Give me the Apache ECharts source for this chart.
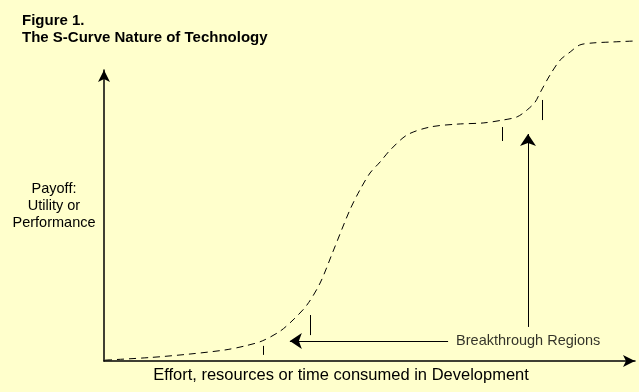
<!DOCTYPE html>
<html>
<head>
<meta charset="utf-8">
<script src="https://cdn.jsdelivr.net/npm/echarts@6/dist/echarts.min.js"></script>
<style>
html,body{margin:0;padding:0;background:#FFFFCC;}
#chart{width:639px;height:392px;}
</style>
</head>
<body>
<div id="chart"></div>
<script>
// S-curve (effort vs payoff), in axis units (0-100)
var curveX = [0.2, 8.7, 16.2, 22.8, 26.6, 29.8, 33.2, 35.6, 38.2, 40.7, 43.1, 46.3, 48.2, 50.1, 52.0, 53.9, 57.1, 61.4, 66.5, 71.4, 75.1, 77.8, 79.7, 81.2, 82.1, 84.0, 85.9, 87.8, 89.6, 92.1, 95.3, 100.4];
var curveY = [0.3, 1.2, 2.4, 3.8, 5.2, 6.9, 10.3, 14.1, 19.2, 26.8, 37.5, 51.9, 58.8, 64.6, 68.4, 72.5, 77.7, 80.4, 81.4, 81.8, 82.8, 83.9, 86.3, 89.0, 92.1, 98.3, 103.4, 106.2, 108.6, 109.3, 109.6, 110.0];
// breakthrough region tick marks
var tickX = [29.9, 38.8, 75.0, 82.5];
var tickLow = [2.1, 8.9, 75.6, 82.8];
var tickHigh = [5.2, 15.8, 80.4, 89.7];
// pointer arrows: [fromX, fromY] -> [toX, toY]
var arrowFrom = [[64.8, 6.9], [79.85, 11.7]];
var arrowTo = [[35.0, 6.9], [79.85, 78.0]];
var calloutText = 'Breakthrough Regions';
var titleText = 'Figure 1.\nThe S-Curve Nature of Technology';
var xAxisTitle = 'Effort, resources or time consumed in Development';
var yAxisTitle = 'Payoff:\nUtility or\nPerformance';

var chart = echarts.init(document.getElementById('chart'));
var curve = curveX.map(function (x, i) { return [x, curveY[i]]; });
var ticks = tickX.map(function (x, i) { return { coords: [[x, tickLow[i]], [x, tickHigh[i]]] }; });
var arrows = arrowFrom.map(function (f, i) { return { coords: [f, arrowTo[i]] }; });

chart.setOption({
  backgroundColor: '#FFFFCC',
  animation: false,
  title: {
    text: titleText,
    left: 22, top: 12, padding: 0,
    textStyle: { fontFamily: 'Liberation Sans, Arial', fontSize: 15, fontWeight: 'bold', color: '#000', lineHeight: 17 }
  },
  grid: { left: 104, right: 4, top: 70, bottom: 31 },
  xAxis: {
    type: 'value', min: 0, max: 100,
    axisLine: { show: true, lineStyle: { color: '#000', width: 1.5 }, symbol: ['none', 'arrow'], symbolSize: [9, 12] },
    axisTick: { show: false }, axisLabel: { show: false }, splitLine: { show: false }
  },
  yAxis: {
    type: 'value', min: 0, max: 100,
    axisLine: { show: true, lineStyle: { color: '#000', width: 1.5 }, symbol: ['none', 'arrow'], symbolSize: [9, 12] },
    axisTick: { show: false }, axisLabel: { show: false }, splitLine: { show: false }
  },
  graphic: [
    { type: 'text', x: 341, y: 375, style: { text: xAxisTitle, font: '16.5px "Liberation Sans", Arial', fill: '#000', align: 'center', verticalAlign: 'middle' } },
    { type: 'text', x: 54, y: 206, style: { text: yAxisTitle, font: '14.5px "Liberation Sans", Arial', fill: '#000', align: 'center', verticalAlign: 'middle', lineHeight: 17 } }
  ],
  series: [
    {
      type: 'line', data: curve, smooth: 0.3, showSymbol: false, clip: false,
      lineStyle: { color: '#000', width: 1, type: [7, 5] }
    },
    {
      type: 'lines', coordinateSystem: 'cartesian2d', data: ticks, symbol: 'none',
      lineStyle: { color: '#000', width: 1, opacity: 1 }
    },
    {
      type: 'lines', coordinateSystem: 'cartesian2d', data: arrows, symbol: ['none', 'arrow'], symbolSize: [9, 12],
      lineStyle: { color: '#000', width: 1, opacity: 1 }
    },
    {
      type: 'scatter', data: [arrowFrom[0]], symbolSize: 0,
      label: { show: true, position: 'right', distance: 8, formatter: calloutText, color: '#000', fontSize: 14.5, fontFamily: 'Liberation Sans, Arial' }
    }
  ]
});
</script>
</body>
</html>
